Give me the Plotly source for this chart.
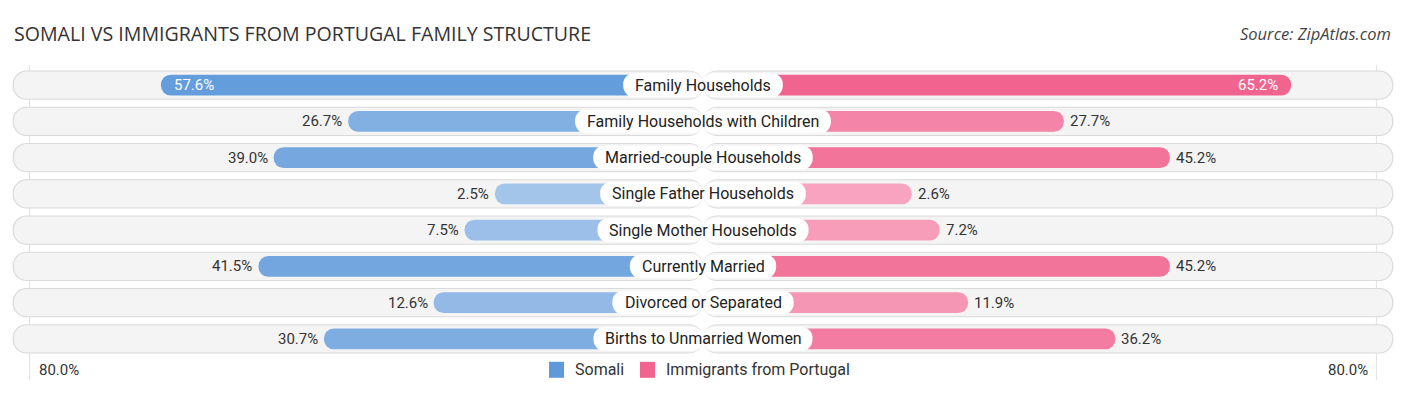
import plotly.graph_objects as go

# ---- data ----
categories = [
    "Family Households",
    "Family Households with Children",
    "Married-couple Households",
    "Single Father Households",
    "Single Mother Households",
    "Currently Married",
    "Divorced or Separated",
    "Births to Unmarried Women",
]
somali = [57.6, 26.7, 39.0, 2.5, 7.5, 41.5, 12.6, 30.7]
portugal = [65.2, 27.7, 45.2, 2.6, 7.2, 45.2, 11.9, 36.2]
inside_label = [True, False, False, False, False, False, False, False]
series_names = ["Somali", "Immigrants from Portugal"]
axis_max_label = "80.0%"

# ---- geometry (figure pixels; page has an 8px body margin) ----
W, H = 1398, 387
CX = 695                         # centre x in figure pixels
PX = 6.061                       # pixels per percentage unit
OFF = 193 / PX                   # extra bar length hidden behind the label
ROW_PX = 36.29
n = len(categories)
TOP = 77 - ROW_PX / 2            # top of plot area
BOT = TOP + n * ROW_PX
MB = H - BOT

def py(fig_y):                   # figure pixel y -> paper y
    return (BOT - fig_y) / (n * ROW_PX)

def pxp(fig_x):                  # figure pixel x -> paper x
    return fig_x / W

def rgb(c):
    return "rgb(%d,%d,%d)" % tuple(c)

def lerp(c1, c2, t):
    return rgb(round(a + (b - a) * t) for a, b in zip(c1, c2))

blue_light, blue_dark = (172, 202, 236), (94, 153, 218)
pink_light, pink_dark = (249, 172, 198), (240, 100, 143)
vmax = max(max(somali), max(portugal))
blue_cols = [lerp(blue_light, blue_dark, min(1, (v / vmax) ** 0.7)) for v in somali]
pink_cols = [lerp(pink_light, pink_dark, min(1, (v / vmax) ** 0.7)) for v in portugal]

# approximate Roboto advance widths (em)
CW = {'a': .544, 'b': .561, 'c': .523, 'd': .564, 'e': .528, 'f': .347, 'g': .561, 'h': .551,
      'i': .243, 'j': .239, 'k': .508, 'l': .243, 'm': .875, 'n': .552, 'o': .571, 'p': .561,
      'q': .566, 'r': .338, 's': .516, 't': .327, 'u': .551, 'v': .484, 'w': .738, 'x': .496,
      'y': .473, 'z': .496, ' ': .248, 'B': .613, 'C': .637, 'D': .642, 'F': .540, 'H': .697,
      'M': .853, 'S': .594, 'W': .867, '-': .276}
def text_w(s, size):
    return sum(CW.get(ch, .58) for ch in s) * size

idx = list(range(n))
fig = go.Figure()

def half_bars(y, half, width, color, radius):
    for sgn in (-1, 1):
        fig.add_trace(go.Bar(
            y=y, x=[sgn * h for h in half], base=[0] * len(y), orientation="h",
            width=width, marker=dict(color=color, line=dict(width=0), cornerradius=radius),
            showlegend=False, hoverinfo="skip"))

# background pills (border + fill)
BG_HALF = 113.9
half_bars(idx, [BG_HALF] * n, 29.5 / ROW_PX, "#dadada", 15)
half_bars(idx, [BG_HALF - 1.2 / PX] * n, 27.2 / ROW_PX, "#f4f4f4", 14)

# data bars (drawn from the centre)
fig.add_trace(go.Bar(
    y=idx, x=[-(OFF + v) for v in somali], base=[0] * n, orientation="h",
    width=21 / ROW_PX, marker=dict(color=blue_cols, line=dict(width=0), cornerradius=10.5),
    showlegend=False, hoverinfo="skip"))
fig.add_trace(go.Bar(
    y=idx, x=[OFF + v for v in portugal], base=[0] * n, orientation="h",
    width=21 / ROW_PX, marker=dict(color=pink_cols, line=dict(width=0), cornerradius=10.5),
    showlegend=False, hoverinfo="skip"))

# label pills
LABEL_SIZE = 16
label_half = [(text_w(c, LABEL_SIZE) + 24) / 2 / PX for c in categories]
half_bars(idx, label_half, 24 / ROW_PX, "#ffffff", 12)

ann = []
VAL_SIZE = 15
for i, c in enumerate(categories):
    ann.append(dict(x=0, y=i, text=c, showarrow=False, xanchor="center", yanchor="middle",
                    font=dict(family="Roboto", size=LABEL_SIZE, color="#222")))
    ls, rs = somali[i], portugal[i]
    if inside_label[i]:
        ann.append(dict(x=-(OFF + ls), y=i, text=f"{ls:.1f}%", showarrow=False, xanchor="left",
                        xshift=11, font=dict(family="Roboto", size=VAL_SIZE, color="#ffffff")))
        ann.append(dict(x=OFF + rs, y=i, text=f"{rs:.1f}%", showarrow=False, xanchor="right",
                        xshift=-11, font=dict(family="Roboto", size=VAL_SIZE, color="#ffffff")))
    else:
        ann.append(dict(x=-(OFF + ls), y=i, text=f"{ls:.1f}%", showarrow=False, xanchor="right",
                        xshift=-4, font=dict(family="Roboto", size=VAL_SIZE, color="#333")))
        ann.append(dict(x=OFF + rs, y=i, text=f"{rs:.1f}%", showarrow=False, xanchor="left",
                        xshift=4, font=dict(family="Roboto", size=VAL_SIZE, color="#333")))

LEG_Y = 362
ann.append(dict(xref="paper", yref="paper", x=pxp(29), y=py(LEG_Y), text=axis_max_label,
                showarrow=False, xanchor="left", yanchor="middle",
                font=dict(family="Roboto", size=VAL_SIZE, color="#333")))
ann.append(dict(xref="paper", yref="paper", x=pxp(1362), y=py(LEG_Y), text=axis_max_label,
                showarrow=False, xanchor="right", yanchor="middle",
                font=dict(family="Roboto", size=VAL_SIZE, color="#333")))
ann.append(dict(xref="paper", yref="paper", x=pxp(1385), y=py(25), text="<i>Source: ZipAtlas.com</i>",
                showarrow=False, xanchor="right", yanchor="middle",
                font=dict(family="Open Sans", size=16.5, color="#444")))
ann.append(dict(xref="paper", yref="paper", x=pxp(4), y=py(25),
                text="SOMALI VS IMMIGRANTS FROM PORTUGAL FAMILY STRUCTURE",
                showarrow=False, xanchor="left", yanchor="middle",
                font=dict(family="Open Sans", size=19.6, color="#333")))

# legend (manual)
leg_items = [(541, series_names[0], rgb(blue_dark)), (632, series_names[1], rgb(pink_dark))]
shapes = []
for x0, name, col in leg_items:
    shapes.append(dict(type="rect", xref="paper", yref="paper", x0=pxp(x0), x1=pxp(x0 + 15),
                       y0=py(LEG_Y + 8), y1=py(LEG_Y - 8), fillcolor=col, line=dict(width=0)))
    ann.append(dict(xref="paper", yref="paper", x=pxp(x0 + 24), y=py(LEG_Y), text=name,
                    showarrow=False, xanchor="left", yanchor="middle",
                    font=dict(family="Roboto", size=16, color="#333")))

grid_x = 111.1
for s in (-1, 1):
    shapes.append(dict(type="line", xref="x", yref="paper", x0=s * grid_x, x1=s * grid_x,
                       y0=py(372), y1=py(57), line=dict(color="#e0e0e0", width=1), layer="below"))

fig.update_layout(
    width=W, height=H,
    margin=dict(l=0, r=0, t=TOP, b=MB, pad=0),
    barmode="overlay",
    plot_bgcolor="white", paper_bgcolor="white",
    xaxis=dict(range=[-CX / PX, (W - CX) / PX], visible=False, fixedrange=True),
    yaxis=dict(range=[n - 0.5, -0.5], visible=False, fixedrange=True),
    showlegend=False,
    annotations=ann, shapes=shapes,
    hovermode=False,
)

fig.write_html("out.html")
